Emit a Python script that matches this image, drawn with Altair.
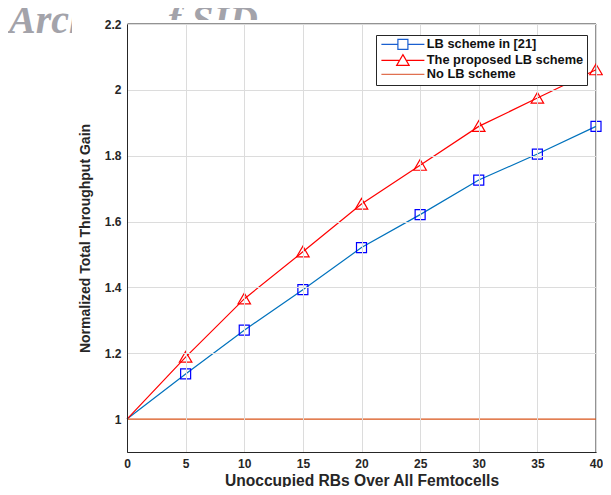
import altair as alt
import pandas as pd

x_vals = [0, 5, 10, 15, 20, 25, 30, 35, 40]
lb21 = [1.0, 1.137, 1.270, 1.393, 1.521, 1.621, 1.726, 1.805, 1.889]
proposed = [1.0, 1.188, 1.365, 1.508, 1.653, 1.771, 1.889, 1.975, 2.061]
no_lb = [1.0, 1.0, 1.0, 1.0, 1.0, 1.0, 1.0, 1.0, 1.0]
series_names = ["LB scheme in [21]", "The proposed LB scheme", "No LB scheme"]
line_colors = ["#0072BD", "#FF0000", "#D95319"]
marker_colors = ["#0000FF", "#FF0000"]
legend_colors = ["#1a5fd0", "#FF0000", "#E07050"]
x_ticks = [0, 5, 10, 15, 20, 25, 30, 35, 40]
y_ticks = [1, 1.2, 1.4, 1.6, 1.8, 2, 2.2]
watermark_text = "Archive of SID"

rows = []
for name, vals in zip(series_names, [lb21, proposed, no_lb]):
    for xv, yv in zip(x_vals, vals):
        rows.append({"x": xv, "y": yv, "series": name})
df = pd.DataFrame(rows)
# markers are drawn from x = 5 onward, for the two LB schemes only
pts = df[(df.series != series_names[2]) & (df.x > 0)]

FONT = "Liberation Sans"
AX = "#262626"
GRID = "#dcdcdc"
W, H = 469, 428

xscale = alt.Scale(domain=[0, 40], nice=False)
yscale = alt.Scale(domain=[0.9, 2.2], nice=False, zero=False)

xaxis = alt.Axis(values=x_ticks, grid=True, gridColor=GRID, domainColor=AX, zindex=1,
                 tickSize=0, labelFont=FONT, labelFontSize=12, labelFontWeight="bold",
                 labelColor=AX, labelPadding=6, labelFlush=False,
                 title="Unoccupied RBs Over All Femtocells", titleFont=FONT,
                 titleFontSize=15.6, titleFontWeight="bold", titleColor=AX, titlePadding=4)
yaxis = alt.Axis(values=y_ticks, grid=True, gridColor=GRID, domainColor=AX, format="~g",
                 zindex=1,
                 gridOpacity={"condition": {"test": "datum.value === 1", "value": 0}, "value": 1},
                 tickSize=0, labelFont=FONT, labelFontSize=12, labelFontWeight="bold",
                 labelColor=AX, labelPadding=6, labelFlush=False,
                 title="Normalized Total Throughput Gain", titleFont=FONT,
                 titleFontSize=14, titleFontWeight="bold", titleColor=AX, titlePadding=12)

sq_path = "M-1,-1H1V1H-1Z"
tri_path = "M0,-1.15L1.25,1H-1.25Z"
legend_paths = [
    "M-4.3,0H-1M1,0H4.3M-1,-1H1V1H-1Z",
    "M-4.3,0H-0.8M0.8,0H4.3M0,-1.15L1.25,1H-1.25Z",
    "M-4.3,0H4.3",
]

watermark = alt.Chart(alt.Data(values=[{"t": watermark_text}])).mark_text(
    align="left", baseline="alphabetic", font="Liberation Serif", fontSize=40,
    fontStyle="italic", fontWeight="bold", color="#a3a3aa"
).encode(x=alt.value(-118), y=alt.value(9), text="t:N")

# white figure background that hides the part of the watermark under the figure
mask_a = alt.Chart(alt.Data(values=[{"m": 1}])).mark_rect(color="white").encode(
    x=alt.value(-55), x2=alt.value(41), y=alt.value(-16), y2=alt.value(26)
)
mask_b = alt.Chart(alt.Data(values=[{"m": 1}])).mark_rect(color="white").encode(
    x=alt.value(41), x2=alt.value(140), y=alt.value(-4), y2=alt.value(26)
)

frame = alt.Chart(alt.Data(values=[{"m": 1}])).mark_rect(
    fillOpacity=0, stroke=AX, strokeWidth=1, xOffset=0.5, yOffset=0.5
).encode(
    x=alt.datum(0, scale=xscale), x2=alt.datum(40),
    y=alt.datum(0.9, scale=yscale), y2=alt.datum(2.2)
)

lines = alt.Chart(df).mark_line(strokeWidth=1.2).encode(
    x=alt.X("x:Q", scale=xscale, axis=xaxis),
    y=alt.Y("y:Q", scale=yscale, axis=yaxis),
    color=alt.Color("series:N", scale=alt.Scale(domain=series_names, range=line_colors),
                    legend=None),
)

points = alt.Chart(pts).mark_point(filled=False, size=100, strokeWidth=1.2, opacity=1).encode(
    x=alt.X("x:Q", scale=xscale),
    y=alt.Y("y:Q", scale=yscale),
    color=alt.Color("series:N", scale=alt.Scale(domain=series_names[:2], range=marker_colors),
                    legend=None),
    shape=alt.Shape("series:N", scale=alt.Scale(domain=series_names[:2], range=[sq_path, tri_path]),
                    legend=None),
)

leg = dict(title=None, orient="none", legendX=249, legendY=11, zindex=3,
           symbolSize=100, symbolStrokeWidth=1.2, symbolOffset=17.5, labelOffset=17.5,
           symbolOpacity=1, symbolFillColor="transparent",
           labelFont=FONT, labelFontSize=12.8, labelFontWeight="bold", labelColor="#111111",
           strokeColor=AX, fillColor="white", padding=3, rowPadding=0)

legend_layer = alt.Chart(df).mark_point(filled=False, opacity=0, size=100).encode(
    x=alt.X("x:Q", scale=xscale),
    y=alt.Y("y:Q", scale=yscale),
    color=alt.Color("series:N", scale=alt.Scale(domain=series_names, range=legend_colors),
                    legend=alt.Legend(**leg)),
    shape=alt.Shape("series:N", scale=alt.Scale(domain=series_names, range=legend_paths),
                    legend=alt.Legend(**leg)),
)

chart = alt.layer(watermark, mask_a, mask_b, frame, lines, points, legend_layer).resolve_scale(
    color="independent", shape="independent"
).resolve_legend(color="independent", shape="independent").properties(
    width=W, height=H,
    autosize=alt.AutoSizeParams(type="none"),
    padding={"left": 119, "top": 16, "right": 7, "bottom": 35},
    background="white",
).configure_view(strokeWidth=0)

chart.save("out.html", embed_options={"renderer": "svg", "actions": False})
